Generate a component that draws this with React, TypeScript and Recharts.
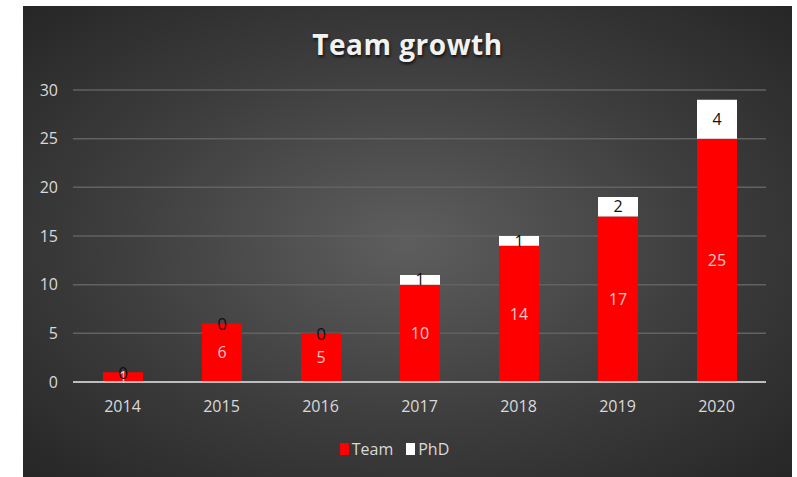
import React from 'react';
import { BarChart, Bar, XAxis, YAxis, CartesianGrid, Legend, LabelList } from 'recharts';

// --- Chart data ---
const years: string[] = ['2014', '2015', '2016', '2017', '2018', '2019', '2020'];
const teamValues: number[] = [1, 6, 5, 10, 14, 17, 25];
const phdValues: number[] = [0, 0, 0, 1, 1, 2, 4];
const yTicks: number[] = [0, 5, 10, 15, 20, 25, 30];

const chartData = years.map((year, i) => ({
  year,
  Team: teamValues[i],
  PhD: phdValues[i],
}));

const legendItems = [
  { name: 'Team', color: '#ff0000' },
  { name: 'PhD', color: '#ffffff' },
];

const FONT = '"Open Sans", "Noto Sans", sans-serif';

// zero PhD values: the white segment has no height, so put the "0" on top of the red bar
const ZeroPhdLabel = (props: any) => {
  const { x, y, width, value } = props;
  if (value !== 0) return null;
  return (
    <text x={x + width / 2} y={y} fill="#111111" fontSize={17} textAnchor="middle" dominantBaseline="central">
      {value}
    </text>
  );
};

const LegendContent = () => (
  <div style={{ display: 'flex', justifyContent: 'center', gap: 13, color: '#d9d9d9', fontSize: 16 }}>
    {legendItems.map((item) => (
      <span key={item.name} style={{ display: 'flex', alignItems: 'center' }}>
        <span style={{ display: 'inline-block', width: 9, height: 12, background: item.color, marginRight: 3 }} />
        {item.name}
      </span>
    ))}
  </div>
);

const App: React.FC = () => (
  <div style={{ position: 'absolute', left: 0, top: 0, width: 797, height: 477, background: '#fff' }}>
    <div
      style={{
        position: 'absolute',
        left: 23,
        top: 6,
        width: 769,
        height: 471,
        background: 'radial-gradient(ellipse at 50% 50%, #5e5e5e 0%, #3d3d3d 55%, #262626 100%)',
        fontFamily: FONT,
      }}
    >
      <div
        style={{
          position: 'absolute',
          left: 0,
          top: 19,
          width: '100%',
          textAlign: 'center',
          color: '#f2f2f2',
          fontSize: 28,
          fontWeight: 700,
          letterSpacing: 0.5,
          textShadow: '1px 2px 3px rgba(0,0,0,0.7)',
        }}
      >
        Team growth
      </div>
      <BarChart
        width={769}
        height={471}
        data={chartData}
        margin={{ top: 84, right: 26, left: 0, bottom: 17 }}
        style={{ position: 'absolute', left: 0, top: 0 }}
      >
        <CartesianGrid vertical={false} stroke="#626262" strokeWidth={1.5} />
        <XAxis
          dataKey="year"
          axisLine={{ stroke: '#bdbdbd', strokeWidth: 2 }}
          tickLine={false}
          tick={{ fill: '#d9d9d9', fontSize: 16 }}
          tickMargin={13}
          height={56}
        />
        <YAxis
          domain={[0, 30]}
          ticks={yTicks}
          axisLine={false}
          tickLine={false}
          tick={{ fill: '#d9d9d9', fontSize: 16 }}
          tickMargin={9}
          width={50}
        />
        <Legend verticalAlign="bottom" align="center" content={LegendContent} />
        <Bar dataKey="Team" stackId="a" fill="#ff0000" barSize={40} isAnimationActive={false}>
          <LabelList dataKey="Team" position="center" fill="#f7c6c6" fontSize={16} />
          <LabelList dataKey="PhD" content={ZeroPhdLabel} />
        </Bar>
        <Bar dataKey="PhD" stackId="a" fill="#ffffff" barSize={40} isAnimationActive={false}>
          <LabelList dataKey="PhD" position="center" fill="#111111" fontSize={16} />
        </Bar>
      </BarChart>
    </div>
  </div>
);

export default App;
